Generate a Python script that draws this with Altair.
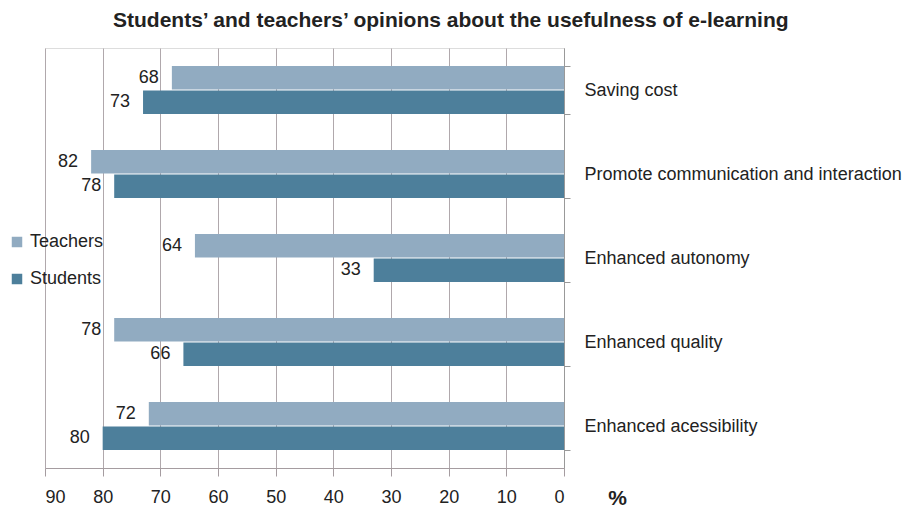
import altair as alt
import pandas as pd

categories = ["Saving cost", "Promote communication and interaction",
              "Enhanced autonomy", "Enhanced quality", "Enhanced acessibility"]
teachers = [68, 82, 64, 78, 72]
students = [73, 78, 33, 66, 80]
series = ["Teachers", "Students"]
colors = ["#91abc1", "#4d7f9b"]

rows = []
for c, t, s in zip(categories, teachers, students):
    rows.append({"category": c, "group": "Teachers", "value": t})
    rows.append({"category": c, "group": "Students", "value": s})
df = pd.DataFrame(rows)

FONT = "Liberation Sans"

x_enc = alt.X("value:Q",
              scale=alt.Scale(domain=[0, 90], reverse=True, nice=False),
              axis=alt.Axis(values=list(range(0, 91, 10)), title="%",
                            titleFontSize=21, titleFontWeight="bold",
                            titleX=572, titleY=30, titleAlign="center",
                            titleBaseline="middle", titleColor="#222",
                            labelFontSize=18, labelColor="#222", labelPadding=12,
                            labelFont=FONT, titleFont=FONT,
                            tickSize=8, tickColor="#a59ca0", domainColor="#a59ca0",
                            grid=True, gridColor="#b0a8ac", gridWidth=1))
y_enc = alt.Y("category:N", sort=categories,
              scale=alt.Scale(paddingInner=0.43, paddingOuter=0.215),
              axis=alt.Axis(orient="right", title=None, labelFontSize=18,
                            labelColor="#222", labelFont=FONT, labelPadding=14,
                            labelLimit=0,
                            tickBand="extent", tickSize=6, tickColor="#999",
                            domainColor="#999", grid=False))
yoff = alt.YOffset("group:N", sort=series, scale=alt.Scale(paddingInner=0.04))

bars = alt.Chart(df).mark_bar(stroke=None).encode(
    x=x_enc, y=y_enc, yOffset=yoff,
    color=alt.Color("group:N", sort=series,
                    scale=alt.Scale(domain=series, range=colors),
                    legend=alt.Legend(title=None, orient="none", legendX=-37, legendY=185,
                                      symbolType="square", symbolSize=110,
                                      symbolStrokeWidth=0,
                                      labelFontSize=18, labelFont=FONT, labelColor="#222",
                                      rowPadding=19, labelOffset=4))
)

labels = alt.Chart(df).mark_text(align="right", baseline="middle", dx=-13,
                                 fontSize=18, font=FONT, color="#222").encode(
    x="value:Q", y=alt.Y("category:N", sort=categories), yOffset=yoff,
    text="value:Q")

chart = alt.layer(bars, labels).properties(
    width=519, height=420,
    autosize=alt.AutoSizeParams(type="none"),
    padding={"left": 45, "top": 48, "right": 356, "bottom": 42},
    title=alt.TitleParams("Students’ and teachers’ opinions about the usefulness of e-learning",
                          anchor="start", frame="group", dx=68, offset=8, fontSize=21,
                          fontWeight="bold", font=FONT, color="#222"),
).configure_view(stroke=None).configure(background="white")

chart.save("out.html", embed_options={"renderer": "svg", "actions": False})
